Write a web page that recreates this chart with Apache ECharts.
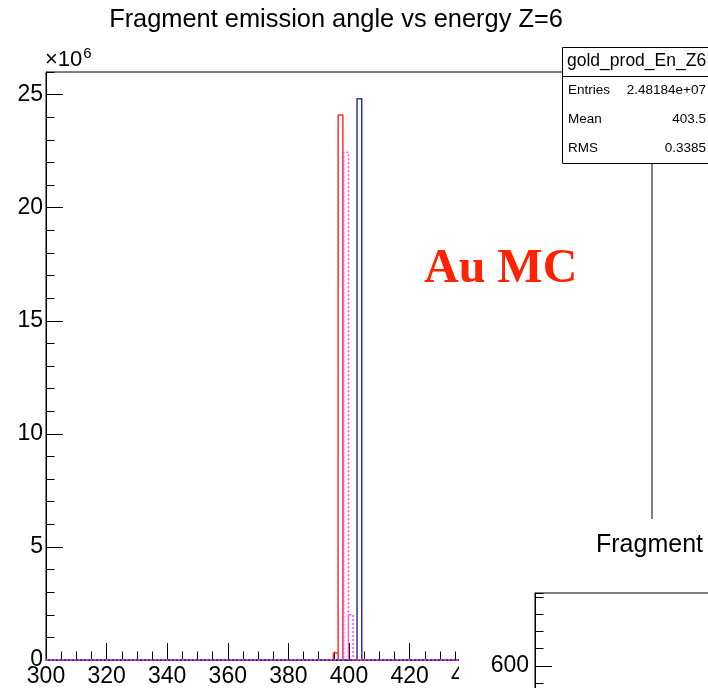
<!DOCTYPE html>
<html>
<head>
<meta charset="utf-8">
<script src="https://cdn.jsdelivr.net/npm/echarts@6/dist/echarts.min.js"></script>
<style>
  html, body { margin: 0; padding: 0; background: #fff; }
  #chart { width: 708px; height: 688px; }
</style>
</head>
<body>
<div id="chart"></div>
<script>
// Histogram range and bin width
const xRange = [300, 500];
const binWidth = 1.5625;

// Non-empty bins: lower edges and contents
const redBinLow = [394.85, 396.42];
const redCounts = [0.31e6, 24.1e6];
const magentaBinLow = [398.25, 399.8];
const magentaCounts = [22.45e6, 2.0e6];
const blueBinLow = [402.65];
const blueCounts = [24.8184e6];

// Axis tick labels
const xTicks = [300, 320, 340, 360, 380, 400, 420, 440, 460, 480, 500];
const yTicks = [0, 5, 10, 15, 20, 25];
const yScale = 1e6;

// Stats box content
const statsTitle = 'gold_prod_En_Z6';
const statsNames = ['Entries', 'Mean', 'RMS'];
const statsValues = ['2.48184e+07', '403.5', '0.3385'];

const FONT = '"Liberation Sans", Arial, Helvetica, sans-serif';

// Build a step outline from bin edges and contents
function outline(lows, counts) {
  const pts = [[xRange[0], 0]];
  lows.forEach((lo, i) => {
    const hi = lo + binWidth;
    pts.push([lo, 0], [lo, counts[i]], [hi, counts[i]], [hi, 0]);
  });
  pts.push([xRange[1], 0]);
  return pts;
}

const chart = echarts.init(document.getElementById('chart'), null, { renderer: 'canvas' });

const tickStyle = { color: '#000', width: 1 };

const option = {
  animation: false,
  backgroundColor: '#fff',
  grid: [
    { left: 46, top: 72, width: 606, height: 588, show: true, borderColor: '#000', borderWidth: 1,
      backgroundColor: 'transparent', z: 0, outerBoundsMode: 'none', containLabel: false },
    { left: 535, top: 593, width: 300, height: 159.5, show: true, borderColor: '#000', borderWidth: 1,
      backgroundColor: 'transparent', z: 60, outerBoundsMode: 'none', containLabel: false }
  ],
  xAxis: [
    {
      type: 'value', gridIndex: 0, min: xRange[0], max: xRange[1], interval: xTicks[1] - xTicks[0],
      axisLine: { show: true, lineStyle: { color: '#000', width: 1 } },
      axisTick: { show: true, inside: true, length: 17, lineStyle: tickStyle },
      minorTick: { show: true, splitNumber: 4, length: 8.5, lineStyle: tickStyle },
      splitLine: { show: false }, minorSplitLine: { show: false },
      axisLabel: { show: true, margin: 5, fontFamily: FONT, fontSize: 23, color: '#000',
        showMinLabel: true, showMaxLabel: true, hideOverlap: false,
        formatter: v => String(v) }
    },
    { type: 'value', gridIndex: 1, min: 0, max: 1, show: false, z: 60 }
  ],
  yAxis: [
    {
      type: 'value', gridIndex: 0, min: 0, max: 26 * yScale, interval: (yTicks[1] - yTicks[0]) * yScale,
      axisLine: { show: true, lineStyle: { color: '#000', width: 1 } },
      axisTick: { show: true, inside: true, length: 17, lineStyle: tickStyle },
      splitLine: { show: false },
      axisLabel: { show: true, margin: 3, fontFamily: FONT, fontSize: 23, color: '#000',
        showMaxLabel: false, hideOverlap: false,
        formatter: v => (yTicks.indexOf(v / yScale) >= 0 ? String(v / yScale) : '') }
    },
    {
      // minor ticks every 1e6
      type: 'value', gridIndex: 0, min: 0, max: 26 * yScale, interval: yScale, position: 'left',
      axisLine: { show: false }, axisLabel: { show: false }, splitLine: { show: false },
      axisTick: { show: true, inside: true, length: 8.5, lineStyle: tickStyle }
    },
    {
      type: 'value', gridIndex: 1, min: 500, max: 684.4, interval: 100, z: 60,
      axisLine: { show: true, lineStyle: { color: '#000', width: 1 } },
      axisTick: { show: true, inside: true, length: 17, lineStyle: tickStyle },
      splitLine: { show: false },
      axisLabel: { show: true, margin: 6, fontFamily: FONT, fontSize: 23, color: '#000',
        showMaxLabel: false, showMinLabel: true, hideOverlap: false }
    },
    {
      type: 'value', gridIndex: 1, min: 500, max: 684.4, interval: 20, z: 60, position: 'left',
      axisLine: { show: false }, axisLabel: { show: false }, splitLine: { show: false },
      axisTick: { show: true, inside: true, length: 8.5, lineStyle: tickStyle }
    }
  ],
  series: [
    {
      name: 'red', type: 'line', xAxisIndex: 0, yAxisIndex: 0, data: outline(redBinLow, redCounts),
      symbol: 'none', lineStyle: { color: '#ff3030', width: 1.5 }, z: 3
    },
    {
      name: 'blue', type: 'line', xAxisIndex: 0, yAxisIndex: 0, data: outline(blueBinLow, blueCounts),
      symbol: 'none', lineStyle: { color: '#3333a0', width: 1.5 }, z: 4
    },
    {
      name: 'magenta', type: 'line', xAxisIndex: 0, yAxisIndex: 0, data: outline(magentaBinLow, magentaCounts),
      symbol: 'none', lineStyle: { color: '#ff44ff', width: 1.5, type: [2, 2] }, z: 5
    }
  ],
  graphic: [
    // main title
    { type: 'text', z: 70, style: { x: 336, y: 20, text: 'Fragment emission angle vs energy Z=6', fontFamily: FONT, fontSize: 25.4, fill: '#000', textAlign: 'center', textVerticalAlign: 'middle' } },
    // exponent label
    { type: 'text', z: 70, style: { x: 45, y: 60, text: '×10{s|6}', fontFamily: FONT, fontSize: 22, fill: '#000', textVerticalAlign: 'middle',
        rich: { s: { fontFamily: FONT, fontSize: 15, fill: '#000', verticalAlign: 'top', padding: [0, 0, 12, 1] } } } },
    // annotation
    { type: 'text', z: 70, style: { x: 424, y: 270, text: 'Au MC', fontFamily: '"Liberation Serif", "Times New Roman", serif', fontWeight: 'bold', fontSize: 48, fill: '#ff2200', textVerticalAlign: 'middle' } },
    // neighbouring pad background
    { type: 'rect', z: 50, shape: { x: 459, y: 519, width: 260, height: 180 }, style: { fill: '#fff' } },
    { type: 'text', z: 70, style: { x: 596, y: 545, text: 'Fragment emission angle', fontFamily: FONT, fontSize: 25, fill: '#000', textVerticalAlign: 'middle' } },
    // stats box
    { type: 'rect', z: 50, shape: { x: 562.5, y: 47.5, width: 160, height: 116 }, style: { fill: '#fff', stroke: '#000', lineWidth: 1 } },
    { type: 'line', z: 51, shape: { x1: 562.5, y1: 76.5, x2: 720, y2: 76.5 }, style: { stroke: '#000', lineWidth: 1 } },
    { type: 'text', z: 52, style: { x: 567, y: 61, text: statsTitle, fontFamily: FONT, fontSize: 17.5, fill: '#000', textVerticalAlign: 'middle' } },
    ...statsNames.map((n, i) => ({ type: 'text', z: 52, style: { x: 568, y: 90 + i * 29, text: n, fontFamily: FONT, fontSize: 13.5, fill: '#000', textVerticalAlign: 'middle' } })),
    ...statsValues.map((v, i) => ({ type: 'text', z: 52, style: { x: 706, y: 90 + i * 29, text: v, fontFamily: FONT, fontSize: 13.5, fill: '#000', textAlign: 'right', textVerticalAlign: 'middle' } }))
  ]
};

chart.setOption(option);
</script>
</body>
</html>
